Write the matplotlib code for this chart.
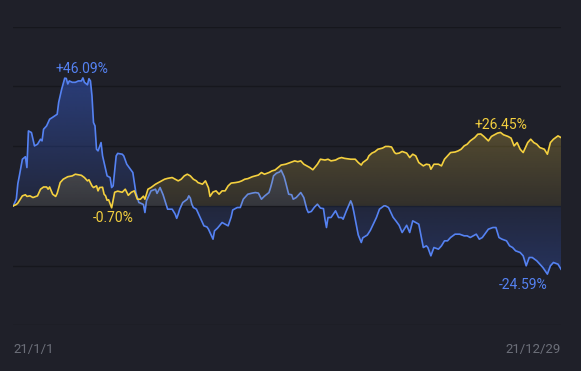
import numpy as np
import matplotlib.pyplot as plt
from matplotlib.patches import PathPatch

# day of year (0 = 21/1/1) and return in %
blue_days = [0, 2, 3, 4, 6, 8, 9, 10, 12, 13, 14, 16, 18, 19, 20, 22, 24, 26, 29, 30,
             32, 34, 35, 36, 37, 39, 41, 43, 45, 46, 47, 49, 50, 51, 52, 53, 54, 55, 56, 58,
             59, 62, 64, 65, 66, 68, 69, 72, 73, 75, 77, 79, 81, 83, 84, 86, 87, 88, 91, 94,
             95, 97, 99, 101, 102, 105, 107, 108, 109, 110, 112, 115, 116, 117, 118, 119, 121, 123, 125, 126,
             128, 129, 130, 132, 133, 135, 138, 140, 142, 144, 145, 148, 150, 152, 153, 155, 158, 160, 162, 164,
             166, 169, 170, 171, 172, 174, 176, 177, 179, 180, 182, 184, 185, 187, 190, 192, 194, 195, 197, 199,
             201, 203, 205, 206, 207, 208, 210, 213, 215, 217, 218, 220, 223, 224, 225, 227, 228, 230, 231, 234,
             236, 238, 240, 242, 245, 246, 248, 251, 253, 255, 257, 260, 262, 264, 266, 268, 271, 273, 274, 276,
             278, 281, 283, 285, 287, 289, 292, 295, 298, 300, 302, 306, 308, 310, 314, 317, 319, 321, 323, 326,
             328, 330, 332, 335, 337, 339, 341, 343, 346, 348, 350, 352, 353, 355, 357, 360, 362]
blue_vals = [0, 2.4, 8, 10.8, 16.8, 17.7, 13.8, 27.0, 26.4, 24.0, 21.6, 22.2, 24.0, 23.4, 27.6, 28.8, 31.2, 31.9, 33.0, 37.3,
             42.1, 46.0, 45.9, 43.9, 45.0, 44.5, 44.5, 45.0, 45.0, 46.09, 44.5, 43.6, 45.8, 45.0, 39.6, 30.0, 28.8, 20.4, 19.8, 22.8,
             18.0, 10.8, 10.2, 6.6, 7.2, 18.0, 18.9, 18.6, 18.0, 15.0, 13.5, 12.0, 4.8, 1.2, 1.0, 0.5, -2.4, 1.8, 5.4, 6.0,
             4.5, 6.6, 4.0, 0.6, -1.2, -1.2, -3.0, -4.5, -3.0, -1.2, 1.2, 2.4, 3.6, 2.8, 0.6, -0.6, -1.2, -3.6, -6.0, -7.2,
             -7.6, -8.4, -9.6, -12.0, -9.0, -8.0, -6.0, -6.6, -7.2, -4.0, -1.5, -0.6, -0.6, 2.4, 3.0, 4.2, 4.6, 4.8, 4.6, 2.4,
             3.5, 4.8, 6.5, 8.5, 10.8, 11.8, 12.2, 12.9, 10.5, 8.5, 4.2, 4.0, 2.4, 3.0, 4.8, 3.0, -1.2, -2.4, -2.0, -0.5,
             0.6, -0.8, -1.0, -4.8, -7.8, -4.2, -4.2, -1.8, -4.2, -4.2, -4.8, -2.0, 1.8, 0.5, -2.0, -7.8, -10.5, -13.2, -11.5, -10.5,
             -8.8, -6.5, -4.2, -1.2, 0, 0, -0.6, -4.1, -5.5, -7.0, -9.6, -7.0, -9.6, -5.4, -6.0, -6.6, -15.0, -14.4, -15.0, -18.0,
             -15.0, -15.6, -14.4, -12.6, -12.6, -11.4, -10.2, -10.2, -10.8, -10.8, -11.4, -10.2, -12.0, -11.4, -8.4, -7.8, -7.8, -11.4, -12.0, -12.6,
             -14.4, -15.0, -16.2, -16.8, -18.0, -21.6, -18.6, -18.6, -19.8, -21.0, -22.2, -23.8, -24.59, -21.6, -20.4, -21.0, -22.8]

yellow_days = [0, 2, 3, 6, 8, 9, 11, 13, 14, 16, 18, 20, 22, 23, 24, 26, 28, 29, 31, 33,
               35, 36, 39, 41, 43, 45, 47, 49, 50, 52, 53, 55, 56, 57, 59, 60, 61, 62, 63, 64,
               65, 66, 67, 69, 72, 74, 76, 78, 80, 82, 84, 86, 87, 88, 89, 91, 94, 96, 98, 100,
               102, 105, 107, 109, 111, 113, 115, 117, 119, 121, 122, 125, 127, 129, 130, 132, 134, 136, 138, 140,
               142, 144, 147, 149, 151, 153, 155, 158, 160, 162, 164, 166, 169, 171, 173, 175, 177, 180, 183, 186,
               188, 190, 192, 194, 196, 198, 201, 203, 206, 208, 210, 213, 215, 217, 219, 223, 226, 228, 230, 231,
               234, 235, 237, 239, 241, 244, 246, 248, 250, 252, 253, 255, 257, 260, 262, 264, 266, 268, 271, 273,
               275, 276, 278, 281, 283, 285, 287, 289, 292, 294, 296, 298, 300, 302, 305, 307, 309, 311, 314, 316,
               318, 320, 322, 324, 327, 329, 331, 333, 335, 337, 340, 342, 344, 346, 348, 351, 353, 355, 357, 360, 362]
yellow_vals = [0, 0.5, 1.0, 3.6, 4.0, 3.4, 3.6, 3.0, 3.2, 3.6, 6.0, 6.8, 6.8, 6.0, 6.8, 4.2, 3.4, 4.5, 8.4, 9.6,
               10.2, 10.5, 10.8, 11.4, 11.2, 11.0, 10.2, 9.0, 9.4, 7.2, 6.6, 7.2, 5.4, 6.6, 6.7, 4.2, 3.6, 2.0, 2.2, 0.8,
               -0.70, 2.0, 4.9, 5.3, 4.9, 6.0, 3.8, 4.9, 5.4, 2.4, 2.4, 3.5, 2.4, 4.2, 6.0, 6.6, 7.8, 8.4, 9.0, 9.6,
               9.9, 10.2, 9.6, 9.0, 9.6, 10.8, 11.4, 10.8, 9.6, 9.0, 8.4, 7.8, 9.0, 6.5, 3.4, 5.0, 5.4, 4.2, 5.4, 5.4,
               7.2, 8.2, 8.4, 8.6, 9.0, 9.6, 9.8, 10.5, 10.8, 11.1, 12.0, 11.4, 12.0, 12.6, 12.9, 13.8, 14.7, 15.0, 15.6, 16.2,
               15.9, 16.2, 15.0, 14.4, 13.8, 13.0, 15.0, 16.8, 16.5, 16.8, 16.2, 16.5, 17.1, 17.4, 17.1, 16.8, 16.8, 15.6, 14.7, 15.6,
               16.8, 18.0, 19.0, 19.5, 20.4, 20.8, 21.4, 21.4, 21.2, 19.2, 18.8, 19.0, 19.6, 19.0, 17.4, 18.6, 18.0, 15.6, 14.4, 15.0,
               14.8, 13.2, 15.0, 15.0, 14.4, 16.8, 18.0, 19.2, 19.4, 19.8, 20.4, 21.6, 22.2, 23.4, 24.6, 25.8, 25.9, 25.0, 23.4, 25.0,
               25.6, 26.2, 26.45, 25.6, 25.0, 24.4, 21.6, 22.8, 20.4, 19.2, 22.8, 24.0, 22.8, 22.2, 21.0, 20.4, 18.6, 22.8, 24.0, 25.2, 24.6]

date_labels = ['21/1/1', '21/12/29']
date_ticks = [0, 362]

bg = '#1f2029'
blue = '#5582f2'
yellow = '#f4d03f'
grid_step = 21.51


def grad_fill(ax, days, vals, color, a_lo, a_hi, z):
    poly = ax.fill_between(days, vals, 0, facecolor='none', edgecolor='none')
    patch = PathPatch(poly.get_paths()[0], transform=ax.transData,
                      facecolor='none', edgecolor='none')
    ax.add_patch(patch)
    lo, hi = -2 * grid_step, 3 * grid_step
    ys = np.linspace(lo, hi, 300)
    top = max(abs(v) for v in vals)
    img = np.zeros((300, 1, 4))
    img[:, 0, :3] = plt.matplotlib.colors.to_rgb(color)
    img[:, 0, 3] = np.clip(a_lo + (a_hi - a_lo) * np.abs(ys) / top, 0, a_hi)
    im = ax.imshow(img, extent=(0, 362, lo, hi), origin='lower',
                   aspect='auto', zorder=z, interpolation='bilinear')
    im.set_clip_path(patch)


fig = plt.figure(figsize=(5.81, 3.71), dpi=100, facecolor=bg)
ax = fig.add_axes([13.3 / 581, 1 - 325.3 / 371, 547.7 / 581, 298.6 / 371])
ax.set_facecolor(bg)

for k in range(-2, 4):
    ax.axhline(k * grid_step, color='#16171d', lw=1.0, zorder=0.5)

grad_fill(ax, blue_days, blue_vals, '#3a66e8', 0.10, 0.42, 1)
ax.plot(blue_days, blue_vals, color=blue, lw=1.2, zorder=2)
grad_fill(ax, yellow_days, yellow_vals, '#e8c445', 0.10, 0.26, 3)
ax.plot(yellow_days, yellow_vals, color=yellow, lw=1.2, zorder=4)

lbl = dict(fontsize=10, family=['Roboto', 'DejaVu Sans'], textcoords='offset points', zorder=5)
bi_max, bi_min = int(np.argmax(blue_vals)), int(np.argmin(blue_vals))
yi_max, yi_min = int(np.argmax(yellow_vals)), int(np.argmin(yellow_vals))
ax.annotate(f'+{blue_vals[bi_max]:.2f}%', (blue_days[bi_max], blue_vals[bi_max]), xytext=(-1, 6.5),
            ha='center', va='center', color=blue, **lbl)
ax.annotate(f'{blue_vals[bi_min]:.2f}%', (blue_days[bi_min], blue_vals[bi_min]), xytext=(0, -8),
            ha='right', va='center', color=blue, **lbl)
ax.annotate(f'+{yellow_vals[yi_max]:.2f}%', (yellow_days[yi_max], yellow_vals[yi_max]), xytext=(0, 5.5),
            ha='center', va='center', color=yellow, **lbl)
ax.annotate(f'{yellow_vals[yi_min]:.2f}%', (yellow_days[yi_min], yellow_vals[yi_min]), xytext=(1, -7.7),
            ha='center', va='center', color=yellow, **lbl)

ax.set_xlim(0, 362)
ax.set_ylim(-2 * grid_step, 3 * grid_step)
ax.set_yticks([])
ax.set_xticks(date_ticks)
ax.set_xticklabels(date_labels, color='#6c6f79', fontsize=9.5, family=['Roboto', 'DejaVu Sans'])
xl = ax.get_xticklabels()
xl[0].set_horizontalalignment('left')
xl[1].set_horizontalalignment('right')
ax.tick_params(axis='x', length=0, pad=13)
for s in ax.spines.values():
    s.set_visible(False)

fig.savefig('out.png', dpi=100, facecolor=bg)
